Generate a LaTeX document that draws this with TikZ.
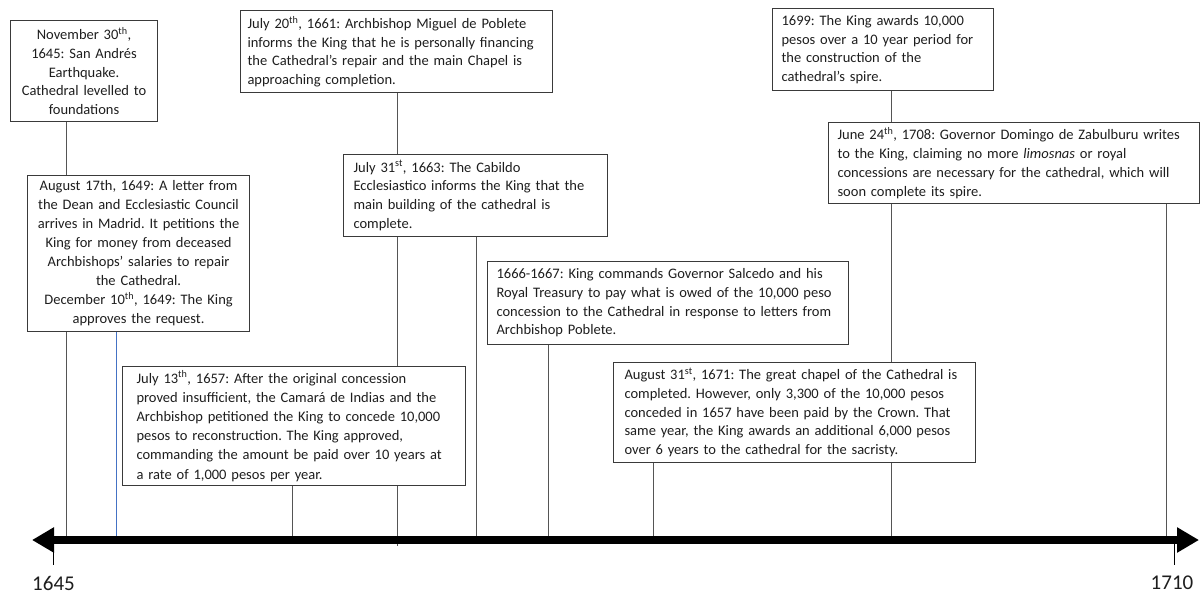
\documentclass[tikz,border=0pt]{standalone}
\usepackage{fontspec}
\setmainfont{Carlito}
\usetikzlibrary{arrows.meta}
\definecolor{linegray}{HTML}{555555}
\definecolor{boxgray}{HTML}{3A3A3A}
\definecolor{txt}{HTML}{1E1E1E}
\definecolor{wordblue}{HTML}{4472C4}
\tikzset{
  evbox/.style={draw=boxgray, line width=1.1pt, fill=white, text=txt,
    font=\fontsize{14.5}{18.7}\selectfont\frenchspacing, inner ysep=0pt, anchor=north west},
  evleft/.style={evbox, align=left},
  evcenter/.style={evbox, align=center},
  conn/.style={draw=linegray, line width=1pt},
  blueconn/.style={draw=wordblue, line width=1pt},
  axisline/.style={line width=8pt, draw=black,
    {Triangle[length=22pt,width=24pt]}-{Triangle[length=22pt,width=24pt]}},
  yearlbl/.style={text=txt, font=\fontsize{21}{24}\selectfont, inner sep=0pt}
}
\begin{document}
\begin{tikzpicture}[x=1pt,y=-1pt]
\useasboundingbox (0,0) rectangle (1200,595);
\fill[white] (0,0) rectangle (1200,595);

% axis coordinates
\coordinate (axL) at (32,540);
\coordinate (axR) at (1199,540);
\coordinate (a1645) at (53,540);
\coordinate (e1645) at (53,565);
\coordinate (a1710) at (1174,540);
\coordinate (e1710) at (1174,565);
\coordinate (p1645) at (66,540);
\coordinate (p1649) at (116,540);
\coordinate (p1657) at (292,540);
\coordinate (p1661) at (397,546);
\coordinate (p1663) at (476,540);
\coordinate (p1666) at (548,540);
\coordinate (p1671) at (653,540);
\coordinate (p1699) at (891,540);
\coordinate (p1708) at (1166,540);

% event boxes
\node[evcenter, inner xsep=3pt, text width=141pt, minimum height=101pt] (b1) at (10,20)
 {November 30\textsuperscript{th},\\ 1645: San Andrés\\ Earthquake.\\ Cathedral levelled to\\ foundations};

\node[evcenter, inner xsep=3pt, text width=216pt, minimum height=156pt,
      font=\fontsize{14.5}{19}\selectfont\frenchspacing] (b2) at (27,175)
 {August 17th, 1649: A letter from\\ the Dean and Ecclesiastic Council\\ arrives in Madrid. It petitions the\\ King for money from deceased\\ Archbishops’ salaries to repair\\ the Cathedral.\\ December 10\textsuperscript{th}, 1649: The King\\ approves the request.};

\node[evleft, inner xsep=7pt, text width=298pt, minimum height=82pt] (b3) at (240,10)
 {July 20\textsuperscript{th}, 1661: Archbishop Miguel de Poblete\\ informs the King that he is personally financing\\ the Cathedral’s repair and the main Chapel is\\ approaching completion.};

\node[evleft, inner xsep=10pt, text width=244pt, minimum height=82pt] (b4) at (343,154)
 {July 31\textsuperscript{st}, 1663: The Cabildo\\ Ecclesiastico informs the King that the\\ main building of the cathedral is\\ complete.};

\node[evleft, inner xsep=9pt, text width=343pt, minimum height=83pt] (b5) at (487,261)
 {1666-1667: King commands Governor Salcedo and his\\ Royal Treasury to pay what is owed of the 10,000 peso\\ concession to the Cathedral in response to letters from\\ Archbishop Poblete.};

\node[evleft, inner xsep=14pt, text width=315pt, minimum height=119pt,
      font=\fontsize{14.5}{19.2}\selectfont\frenchspacing] (b6) at (122,366)
 {July 13\textsuperscript{th}, 1657: After the original concession\\ proved insufficient, the Camará de Indias and the\\ Archbishop petitioned the King to concede 10,000\\ pesos to reconstruction. The King approved,\\ commanding the amount be paid over 10 years at\\ a rate of 1,000 pesos per year.};

\node[evleft, inner xsep=11pt, text width=340pt, minimum height=100pt] (b7) at (613,362)
 {August 31\textsuperscript{st}, 1671: The great chapel of the Cathedral is\\ completed. However, only 3,300 of the 10,000 pesos\\ conceded in 1657 have been paid by the Crown. That\\ same year, the King awards an additional 6,000 pesos\\ over 6 years to the cathedral for the sacristy.};

\node[evleft, inner xsep=9pt, text width=203pt, minimum height=82pt] (b8) at (772,8)
 {1699: The King awards 10,000\\ pesos over a 10 year period for\\ the construction of the\\ cathedral’s spire.};

\node[evleft, inner xsep=9pt, text width=353pt, minimum height=81pt] (b9) at (828,122)
 {June 24\textsuperscript{th}, 1708: Governor Domingo de Zabulburu writes\\ to the King, claiming no more \textit{limosnas} or royal\\ concessions are necessary for the cathedral, which will\\ soon complete its spire.};

% connectors
\draw[conn] (b1.south -| p1645) -- (b2.north -| p1645);
\draw[conn] (b2.south -| p1645) -- (p1645);
\draw[blueconn] (b2.south -| p1649) -- (p1649);
\draw[conn] (b3.south -| p1661) -- (b4.north -| p1661);
\draw[conn] (b4.south -| p1661) -- (b6.north -| p1661);
\draw[conn] (b6.south -| p1661) -- (p1661);
\draw[conn] (b4.south -| p1663) -- (p1663);
\draw[conn] (b5.south -| p1666) -- (p1666);
\draw[conn] (b6.south -| p1657) -- (p1657);
\draw[conn] (b7.south -| p1671) -- (p1671);
\draw[conn] (b8.south -| p1699) -- (b9.north -| p1699);
\draw[conn] (b9.south -| p1699) -- (b7.north -| p1699);
\draw[conn] (b7.south -| p1699) -- (p1699);
\draw[conn] (b9.south -| p1708) -- (p1708);

% ticks
\draw[conn, draw=black] (a1645) -- (e1645);
\draw[conn, draw=black] (a1710) -- (e1710);

% axis
\draw[axisline] (axL) -- (axR);

% year labels
\node[yearlbl] (y1645) at (53.5,583) {1645};
\node[yearlbl] (y1710) at (1172,583) {1710};
\end{tikzpicture}
\end{document}
